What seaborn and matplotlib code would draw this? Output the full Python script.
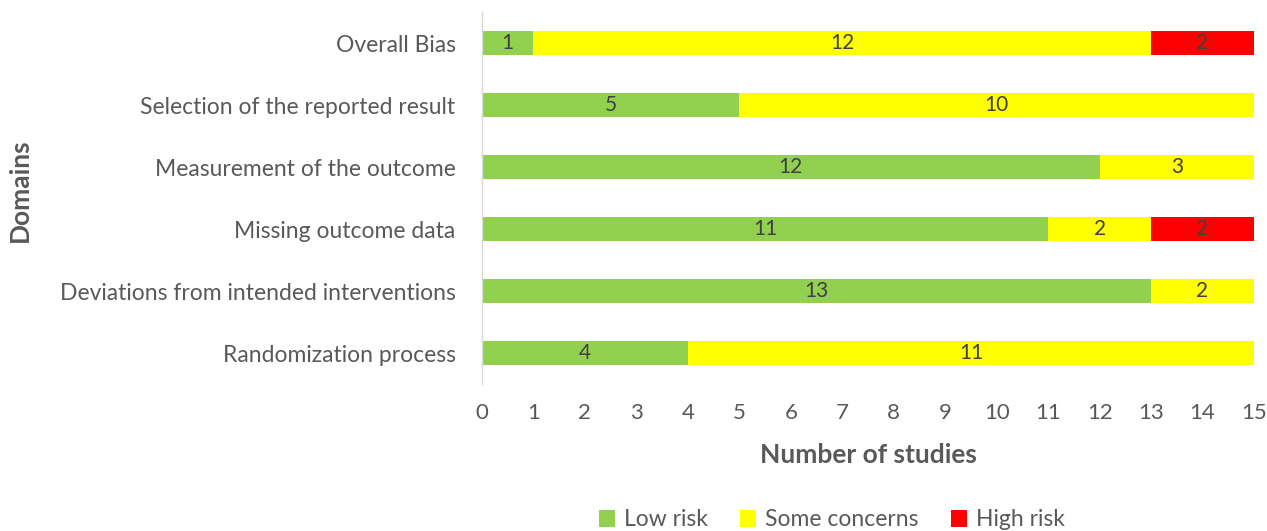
import matplotlib
matplotlib.use("Agg")
import matplotlib.pyplot as plt
from matplotlib.patches import Patch
import seaborn as sns
import pandas as pd
import numpy as np

domains = ["Overall Bias", "Selection of the reported result", "Measurement of the outcome",
           "Missing outcome data", "Deviations from intended interventions", "Randomization process"]
low_risk = [1, 5, 12, 11, 13, 4]
some_concerns = [12, 10, 3, 2, 2, 11]
high_risk = [2, 0, 0, 2, 0, 0]
series_names = ["Low risk", "Some concerns", "High risk"]
colors = ["#92D050", "#FFFF00", "#FF0000"]
x_ticks = list(range(0, 16))

sns.set_theme(style="white")
plt.rcParams['font.family'] = ['Lato', 'DejaVu Sans']
txt = "#595959"

df = pd.DataFrame({"Domain": domains, "low": low_risk, "some": some_concerns, "high": high_risk})
df["c1"] = df["low"]
df["c2"] = df["low"] + df["some"]
df["c3"] = df["c2"] + df["high"]

fig = plt.figure(figsize=(12.67, 5.31), dpi=100)
ax = fig.add_axes([482/1267, 1-384/531, (1254-482)/1267, 372/531])

for col, c in zip(["c3", "c2", "c1"], colors[::-1]):
    sns.barplot(data=df, y="Domain", x=col, color=c, saturation=1, width=0.4,
                orient="h", ax=ax, linewidth=0)

starts = [np.zeros(len(domains)), np.array(low_risk), np.array(low_risk) + np.array(some_concerns)]
for vals, st in zip([low_risk, some_concerns, high_risk], starts):
    for i, (v, s) in enumerate(zip(vals, st)):
        if v > 0:
            ax.text(s + v/2, i, str(v), ha="center", va="center", fontsize=15, color="#404040")

ax.set_xlim(0, 15)
ax.set_ylim(5.5, -0.5)
ax.set_xticks(x_ticks)
ax.set_xticklabels([str(t) for t in x_ticks], fontsize=16, color=txt)
ax.tick_params(axis="x", length=0, pad=14)
ax.tick_params(axis="y", length=0, pad=19, labelsize=16.5, labelcolor=txt)
ax.set_xlabel("Number of studies", fontsize=19, fontweight="bold", color=txt, labelpad=14)
ax.set_ylabel("Domains", fontsize=19, fontweight="bold", color=txt)
ax.yaxis.set_label_coords(-0.583, 0.52)
for s in ["top", "right", "bottom"]:
    ax.spines[s].set_visible(False)
ax.spines["left"].set_color("#D9D9D9")
ax.spines["left"].set_linewidth(1)

handles = [Patch(facecolor=c, edgecolor="none", label=n) for c, n in zip(colors, series_names)]
leg = fig.legend(handles=handles, loc="center", bbox_to_anchor=(832/1267, 1-520/531), ncol=3,
                 frameon=False, fontsize=16.5, handlelength=0.7, handleheight=0.7, handletextpad=0.4,
                 columnspacing=1.4)
for t in leg.get_texts():
    t.set_color(txt)

fig.savefig("out.png", dpi=100)
